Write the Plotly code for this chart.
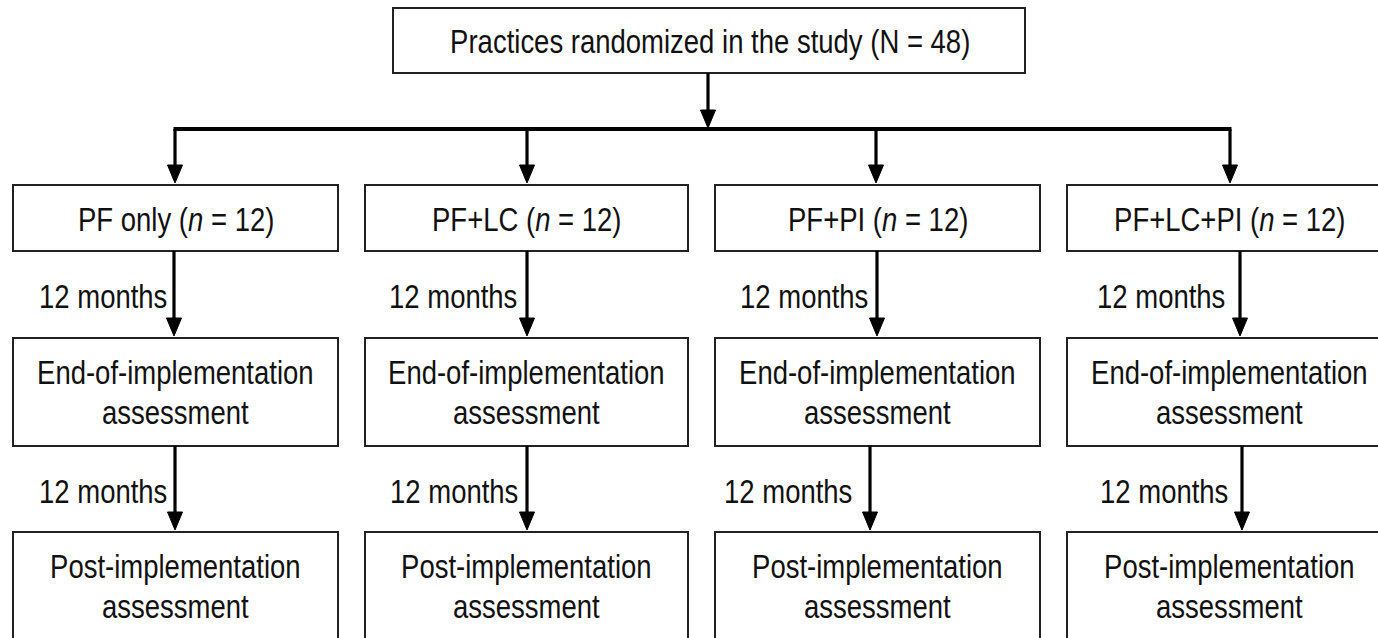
import plotly.graph_objects as go

# ---- data (text content) ----
total_label = "Practices randomized in the study"
total_n = 48
groups = ["PF only", "PF+LC", "PF+PI", "PF+LC+PI"]
group_n = [12, 12, 12, 12]
interval_months = [12, 12]
stage_labels = [["End-of-implementation", "assessment"],
                ["Post-implementation", "assessment"]]

# ---- layout constants (pixel coordinates) ----
W, H = 1378, 638
FONT = "Liberation Sans, Arial, sans-serif"
FS = 27.5
BOX_LINE = dict(color="#222222", width=2)
ARROW_W = 3.2

box_x = [(13, 338), (365, 688), (715, 1040), (1067, 1392)]
row_y = [(185, 251), (338, 446), (532, 660)]
top_box = (393, 1025, 8, 73)
arrow_x_rows = [[175, 527, 876, 1230], [174, 527, 877, 1240], [175, 527, 870, 1242]]
label_x_rows = [[37, 387, 738, 1095], [37, 388, 722, 1098]]
label_y_rows = [296, 491]

fig = go.Figure()
shapes = []
ann = []


def rect(x0, x1, y0, y1):
    shapes.append(dict(type="rect", x0=x0, x1=x1, y0=y0, y1=y1,
                       line=BOX_LINE, fillcolor="white", layer="above"))


def vline(x, y0, y1):
    shapes.append(dict(type="line", x0=x, x1=x, y0=y0, y1=y1,
                       line=dict(color="black", width=ARROW_W)))


def arrow(x, y0, ytip):
    head_h, head_w = 18, 7.5
    vline(x, y0, ytip - head_h + 2)
    shapes.append(dict(type="path",
                       path=f"M {x - head_w},{ytip - head_h} L {x + head_w},{ytip - head_h} L {x},{ytip} Z",
                       fillcolor="black", line=dict(color="black", width=1)))


def text(x, y, s, anchor="center"):
    ann.append(dict(x=x, y=y, text=s, showarrow=False, xanchor=anchor, yanchor="middle",
                    font=dict(family=FONT, size=FS, color="#111111")))


# top box
tx0, tx1, ty0, ty1 = top_box
rect(tx0, tx1, ty0, ty1)
text((tx0 + tx1) / 2 + 1, (ty0 + ty1) / 2 + 1, f"{total_label} (N = {total_n})")

# connector from top box to branch line
branch_y = 129
arrow(708, ty1, branch_y - 1)
shapes.append(dict(type="line", x0=arrow_x_rows[0][0] - 1.5, x1=arrow_x_rows[0][-1] + 1.5,
                   y0=branch_y, y1=branch_y, line=dict(color="black", width=4)))

for i, g in enumerate(groups):
    x0, x1 = box_x[i]
    cx = (x0 + x1) / 2
    # branch arrow into group box
    arrow(arrow_x_rows[0][i], branch_y, row_y[0][0] - 2)
    # group box
    rect(x0, x1, *row_y[0])
    text(cx, (row_y[0][0] + row_y[0][1]) / 2 + 1, f"{g} (<i>n</i> = {group_n[i]})")
    # stage boxes
    for r in range(2):
        top, bot = row_y[r], row_y[r + 1]
        arrow(arrow_x_rows[r + 1][i], top[1], bot[0] - 2)
        text(label_x_rows[r][i], label_y_rows[r], f"{interval_months[r]} months", anchor="left")
        rect(x0, x1, *bot)
        text(cx, bot[0] + 34, stage_labels[r][0])
        text(cx, bot[0] + 74, stage_labels[r][1])

fig.update_layout(
    width=W, height=H,
    margin=dict(l=0, r=0, t=0, b=0),
    paper_bgcolor="white", plot_bgcolor="white",
    xaxis=dict(range=[0, W], visible=False, fixedrange=True),
    yaxis=dict(range=[H, 0], visible=False, fixedrange=True),
    shapes=shapes, annotations=ann, showlegend=False,
)

post = (
    "document.body.style.margin='0';document.body.style.overflow='hidden';"
    "var st=document.createElement('style');"
    "st.textContent='text.annotation-text{transform-box:fill-box;transform-origin:center;transform:scale(1,1.2);}';"
    "document.head.appendChild(st);"
)
fig.write_html("out.html", config={"displayModeBar": False}, post_script=post)
